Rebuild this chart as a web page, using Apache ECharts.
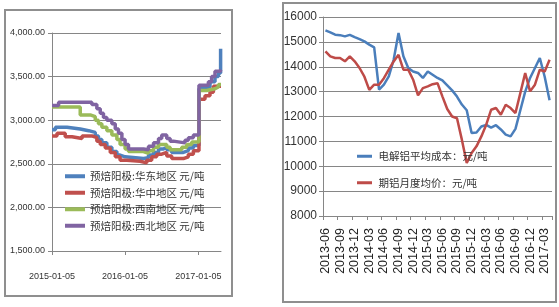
<!DOCTYPE html>
<html><head><meta charset="utf-8">
<script src="https://cdn.jsdelivr.net/npm/echarts@6/dist/echarts.min.js"></script>
<style>html,body{margin:0;padding:0;background:#fff}#c{width:559px;height:307px}</style>
</head><body><div id="c"></div>
<script>
// ---- Left chart: 预焙阳极 prices (step series, [date, value]) ----
const leftNames = ['预焙阳极:华东地区 元/吨','预焙阳极:华中地区 元/吨','预焙阳极:西南地区 元/吨','预焙阳极:西北地区 元/吨'];
const leftTickLabels = ['2015-01-05','2016-01-05','2017-01-05'];
const eastChina = [['2015-01-05',2890],['2015-01-22',2920],['2015-03-21',2900],['2015-05-26',2880],['2015-07-07',2860],['2015-08-09',2820],['2015-08-25',2780],['2015-09-11',2740],['2015-10-06',2690],['2015-10-31',2640],['2015-11-25',2600],['2015-12-11',2580],['2016-01-05',2560],['2016-04-06',2570],['2016-05-01',2600],['2016-05-26',2630],['2016-06-20',2670],['2016-07-14',2690],['2016-07-31',2660],['2016-08-25',2630],['2016-10-22',2650],['2016-11-16',2680],['2016-12-11',2710],['2017-01-08',3360],['2017-02-15',3380],['2017-03-04',3440],['2017-03-29',3500],['2017-04-15',3540],['2017-04-26',3820],['2017-04-28',3820]];
const centralChina = [['2015-01-05',2820],['2015-01-30',2850],['2015-03-12',2810],['2015-04-15',2790],['2015-06-04',2820],['2015-07-23',2800],['2015-08-17',2760],['2015-09-03',2720],['2015-09-28',2680],['2015-10-23',2630],['2015-11-17',2580],['2015-12-11',2540],['2016-01-14',2530],['2016-03-20',2510],['2016-04-22',2540],['2016-05-17',2580],['2016-06-11',2610],['2016-07-06',2630],['2016-07-31',2590],['2016-08-25',2560],['2016-10-22',2580],['2016-11-16',2610],['2016-12-11',2650],['2017-01-08',3240],['2017-02-07',3280],['2017-03-04',3320],['2017-03-21',3390],['2017-04-28',3390]];
const southwest = [['2015-01-05',3150],['2015-05-26',3060],['2015-07-15',3040],['2015-08-09',3000],['2015-08-25',2960],['2015-09-11',2920],['2015-10-06',2880],['2015-10-31',2830],['2015-11-25',2780],['2015-12-11',2720],['2016-01-05',2670],['2016-01-22',2640],['2016-04-06',2620],['2016-05-01',2650],['2016-05-26',2690],['2016-06-20',2720],['2016-07-31',2690],['2016-08-17',2660],['2016-10-14',2690],['2016-11-08',2720],['2016-12-03',2750],['2017-01-08',3340],['2017-02-15',3360],['2017-03-29',3380],['2017-04-15',3410],['2017-04-28',3410]];
const northwest = [['2015-01-05',3170],['2015-02-07',3205],['2015-07-23',3180],['2015-08-17',3130],['2015-09-03',3080],['2015-09-19',3030],['2015-10-06',3000],['2015-10-31',2960],['2015-11-17',2900],['2015-12-03',2850],['2015-12-20',2780],['2016-01-05',2720],['2016-01-22',2670],['2016-04-06',2660],['2016-05-01',2700],['2016-05-26',2740],['2016-06-20',2790],['2016-07-06',2830],['2016-07-31',2790],['2016-08-17',2760],['2016-09-02',2740],['2016-10-30',2770],['2016-11-16',2800],['2016-12-11',2830],['2017-01-08',3400],['2017-02-24',3440],['2017-03-12',3500],['2017-03-29',3560],['2017-04-23',3580],['2017-04-28',3580]];

// ---- Right chart: monthly aluminium cost vs price ----
const rightNames = ['电解铝平均成本：元/吨','期铝月度均价：元/吨'];
const months = ['2013-06','2013-07','2013-08','2013-09','2013-10','2013-11','2013-12','2014-01','2014-02','2014-03','2014-04','2014-05','2014-06','2014-07','2014-08','2014-09','2014-10','2014-11','2014-12','2015-01','2015-02','2015-03','2015-04','2015-05','2015-06','2015-07','2015-08','2015-09','2015-10','2015-11','2015-12','2016-01','2016-02','2016-03','2016-04','2016-05','2016-06','2016-07','2016-08','2016-09','2016-10','2016-11','2016-12','2017-01','2017-02','2017-03','2017-04'];
const avgCost = [15460,15380,15290,15270,15220,15280,15190,15110,15020,14890,14780,13080,13280,13610,14280,15360,14420,13950,13810,13750,13550,13810,13680,13550,13450,13250,13050,12800,12480,12250,11340,11360,11600,11660,11550,11650,11480,11270,11200,11500,12250,13000,13550,13950,14350,13600,12650];
const futuresAvg = [14620,14420,14350,14350,14220,14420,14220,13950,13600,13070,13280,13280,13540,13880,14215,14480,13880,13880,13480,12850,13140,13210,13300,13340,12810,12300,12000,11930,11070,10130,10530,10800,11200,11670,12270,12340,12070,12470,12340,12140,12940,13750,13010,13280,13880,13810,14280];

const ts = s => { const p = s.split('-').map(Number); return new Date(p[0], p[1]-1, p[2]).getTime(); };
const numFont = "'Liberation Sans Narrow','Liberation Sans',sans-serif";
const cjkFont = "'Noto Sans CJK SC',sans-serif";
const axisGray = '#868686';
const leftColors = ['#4F81BD','#C0504D','#9BBB59','#8064A2'];
const lineIcon = 'path://M0,0L20,0L20,4L0,4Z';

const chart = echarts.init(document.getElementById('c'), null, {renderer:'canvas'});
chart.setOption({
  animation:false,
  backgroundColor:'#fff',
  graphic:[
    {type:'rect', shape:{x:5,y:10,width:227,height:286}, style:{fill:'none', stroke:'#8f8f8f', lineWidth:2}, z:0},
    {type:'rect', shape:{x:283,y:3,width:273,height:299}, style:{fill:'none', stroke:'#8f8f8f', lineWidth:2}, z:0}
  ],
  grid:[
    {left:52, right:338, top:33, bottom:56},
    {left:323, right:7, top:17, bottom:91}
  ],
  legend:[
    {orient:'vertical', left:60, top:166, itemGap:6, itemWidth:20, itemHeight:4, icon:lineIcon,
     data:leftNames, textStyle:{fontFamily:cjkFont, fontSize:10.5, color:'#333'}},
    {orient:'vertical', left:352, top:146, itemGap:16, itemWidth:18, itemHeight:3, icon:lineIcon,
     data:rightNames, textStyle:{fontFamily:cjkFont, fontSize:10.5, color:'#333'}}
  ],
  xAxis:[
    {type:'time', gridIndex:0, min:'2015-01-05', max:'2017-04-28',
     axisLine:{lineStyle:{color:axisGray, width:1}},
     axisTick:{show:true, customValues:leftTickLabels.map(ts), length:4, lineStyle:{color:axisGray}},
     axisLabel:{customValues:leftTickLabels.map(ts), formatter:'{yyyy}-{MM}-{dd}', margin:21,
       fontFamily:numFont, fontSize:9, color:'#333', hideOverlap:false},
     splitLine:{show:false}},
    {type:'category', gridIndex:1, data:months, boundaryGap:true,
     axisLine:{lineStyle:{color:axisGray, width:1}},
     axisTick:{show:true, interval:2, length:4, lineStyle:{color:axisGray}},
     axisLabel:{interval:2, rotate:90, margin:12, fontFamily:"'Liberation Sans',sans-serif", fontSize:12.5, color:'#222'},
     splitLine:{show:false}}
  ],
  yAxis:[
    {type:'value', gridIndex:0, min:1500, max:4000, interval:500,
     axisLine:{show:true, lineStyle:{color:axisGray}},
     axisTick:{show:true, length:4, lineStyle:{color:axisGray}},
     axisLabel:{margin:7, fontFamily:numFont, fontSize:9, color:'#333',
       formatter:v => v.toLocaleString('en-US',{minimumFractionDigits:2, maximumFractionDigits:2})},
     splitLine:{lineStyle:{color:axisGray, width:1}}},
    {type:'value', gridIndex:1, min:8000, max:16000, interval:1000,
     axisLine:{show:true, lineStyle:{color:axisGray}},
     axisTick:{show:true, length:4, lineStyle:{color:axisGray}},
     axisLabel:{margin:6, fontFamily:numFont, fontSize:12, color:'#333', formatter:v => String(v)},
     splitLine:{lineStyle:{color:axisGray, width:1}}}
  ],
  series:[
    {name:leftNames[0], type:'line', step:'end', xAxisIndex:0, yAxisIndex:0, data:eastChina, showSymbol:false, lineStyle:{width:3.5, color:leftColors[0]}, itemStyle:{color:leftColors[0]}},
    {name:leftNames[1], type:'line', step:'end', xAxisIndex:0, yAxisIndex:0, data:centralChina, showSymbol:false, lineStyle:{width:3.5, color:leftColors[1]}, itemStyle:{color:leftColors[1]}},
    {name:leftNames[2], type:'line', step:'end', xAxisIndex:0, yAxisIndex:0, data:southwest, showSymbol:false, lineStyle:{width:3.5, color:leftColors[2]}, itemStyle:{color:leftColors[2]}},
    {name:leftNames[3], type:'line', step:'end', xAxisIndex:0, yAxisIndex:0, data:northwest, showSymbol:false, lineStyle:{width:3.5, color:leftColors[3]}, itemStyle:{color:leftColors[3]}},
    {name:rightNames[0], type:'line', xAxisIndex:1, yAxisIndex:1, data:avgCost, showSymbol:false, lineStyle:{width:2.5, color:'#4A7EBB'}, itemStyle:{color:'#4A7EBB'}},
    {name:rightNames[1], type:'line', xAxisIndex:1, yAxisIndex:1, data:futuresAvg, showSymbol:false, lineStyle:{width:2.5, color:'#BE4B48'}, itemStyle:{color:'#BE4B48'}}
  ]
});
</script></body></html>
